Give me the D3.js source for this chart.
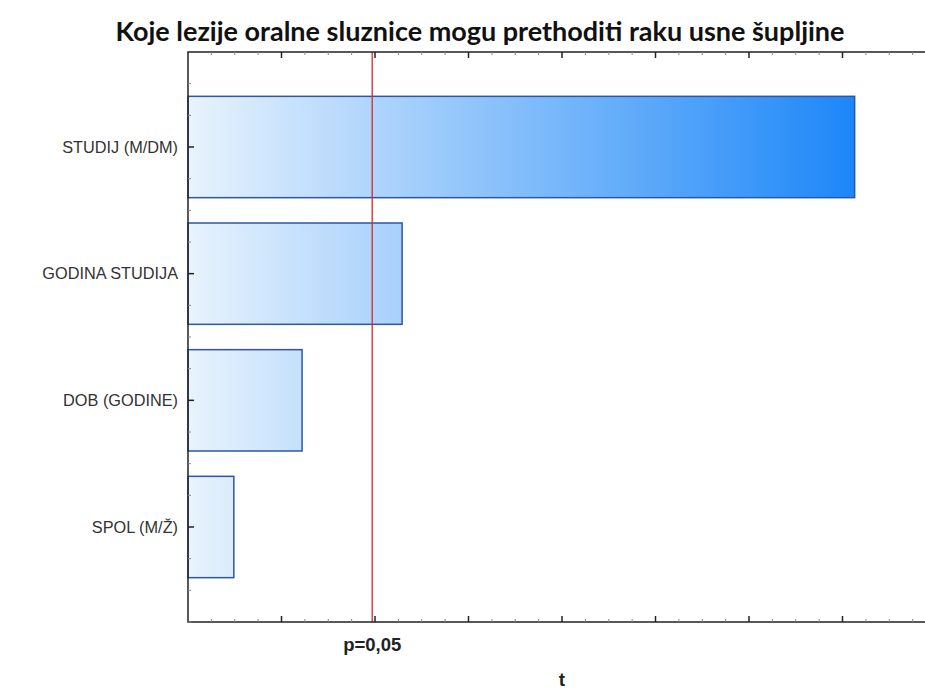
<!DOCTYPE html>
<html>
<head>
<meta charset="utf-8">
<style>
  body { margin: 0; background: #fff; }
  svg { display: block; }
</style>
</head>
<body>
<script src="https://d3js.org/d3.v7.min.js"></script>
<script>
// data (t values of each effect)
var categories = ["STUDIJ (M/DM)", "GODINA STUDIJA", "DOB (GODINE)", "SPOL (M/Ž)"];
var tValues = [7.13, 2.29, 1.22, 0.49];
var critical = 1.97;
var critLabel = "p=0,05";
var title = "Koje lezije oralne sluznice mogu prethoditi raku usne šupljine";

var W = 925, H = 691;
var mLeft = 188, mTop = 52, mBottom = 622, mRight = 936;

var svg = d3.select("body").append("svg")
    .attr("width", W).attr("height", H);

var x = d3.scaleLinear().domain([0, 8]).range([mLeft, mRight]);
// band positions: axis extends 0.75 band past first/last category
var y = d3.scaleLinear().domain([-0.75, categories.length - 0.25]).range([mTop, mBottom]);
var band = y(1) - y(0);
var barH = band * 0.8;

var defs = svg.append("defs");
var grad = defs.append("linearGradient")
    .attr("id", "barGrad")
    .attr("gradientUnits", "userSpaceOnUse")
    .attr("x1", x(0)).attr("x2", x(d3.max(tValues)))
    .attr("y1", 0).attr("y2", 0);
grad.append("stop").attr("offset", 0).attr("stop-color", "#e8f3fd");
grad.append("stop").attr("offset", 1).attr("stop-color", "#1c87f8");

// title
svg.append("text")
    .attr("x", 480).attr("y", 41)
    .attr("text-anchor", "middle")
    .style("font-family", "Lato, 'Open Sans', sans-serif")
    .style("font-weight", "bold")
    .style("font-size", "27px")
    .style("fill", "#111")
    .text(title);

// bars
svg.selectAll("rect.bar")
    .data(tValues)
  .enter().append("rect")
    .attr("class", "bar")
    .attr("x", x(0))
    .attr("y", function(d, i) { return y(i) - barH / 2; })
    .attr("width", function(d) { return x(d) - x(0); })
    .attr("height", barH)
    .style("fill", "url(#barGrad)")
    .style("stroke", "#2d55a8")
    .style("stroke-width", 1.5);

// critical line
svg.append("line")
    .attr("x1", x(critical)).attr("x2", x(critical))
    .attr("y1", mTop).attr("y2", mBottom)
    .style("stroke", "#d9262b")
    .style("stroke-width", 1.3);

// frame
var frame = svg.append("g").style("stroke", "#222").style("stroke-width", 1.5).style("fill", "none");
frame.append("path").attr("d", "M" + mRight + "," + mTop + "H" + mLeft + "V" + mBottom + "H" + mRight);

// x ticks (bottom and top), major every 1, minor every 0.25
var minorX = d3.range(0, 8.01, 0.25).filter(function(v) { return v % 1 !== 0; });
var majorX = d3.range(1, 9, 1);
var tk = svg.append("g").style("stroke", "#222");
majorX.forEach(function(v) {
  tk.append("line").attr("x1", x(v)).attr("x2", x(v)).attr("y1", mBottom).attr("y2", mBottom - 6).style("stroke-width", 1.5);
  tk.append("line").attr("x1", x(v)).attr("x2", x(v)).attr("y1", mTop).attr("y2", mTop + 6).style("stroke-width", 1.5);
});
minorX.forEach(function(v) {
  tk.append("line").attr("x1", x(v)).attr("x2", x(v)).attr("y1", mBottom).attr("y2", mBottom - 3).style("stroke-width", 1).style("stroke", "#888");
  tk.append("line").attr("x1", x(v)).attr("x2", x(v)).attr("y1", mTop).attr("y2", mTop + 3).style("stroke-width", 1).style("stroke", "#888");
});

// y ticks
var majorY = d3.range(categories.length);
var minorY = d3.range(-0.5, categories.length, 0.25).filter(function(v) { return v % 1 !== 0; });
majorY.forEach(function(v) {
  tk.append("line").attr("x1", mLeft).attr("x2", mLeft + 6).attr("y1", y(v)).attr("y2", y(v)).style("stroke-width", 1.5);
});
minorY.forEach(function(v) {
  tk.append("line").attr("x1", mLeft).attr("x2", mLeft + 3).attr("y1", y(v)).attr("y2", y(v)).style("stroke-width", 1).style("stroke", "#888");
});

// category labels
svg.selectAll("text.cat")
    .data(categories)
  .enter().append("text")
    .attr("class", "cat")
    .attr("x", mLeft - 10)
    .attr("y", function(d, i) { return y(i); })
    .attr("dy", "0.35em")
    .attr("text-anchor", "end")
    .style("font-family", "'Liberation Sans', Arial, sans-serif")
    .style("font-size", "16.3px")
    .style("fill", "#333")
    .text(function(d) { return d; });

// p label
svg.append("text")
    .attr("x", x(critical)).attr("y", 651)
    .attr("text-anchor", "middle")
    .style("font-family", "'Liberation Sans', Arial, sans-serif")
    .style("font-weight", "bold")
    .style("font-size", "18.5px")
    .style("fill", "#222")
    .text(critLabel);

// axis title
svg.append("text")
    .attr("x", 562).attr("y", 686)
    .attr("text-anchor", "middle")
    .style("font-family", "'Liberation Sans', Arial, sans-serif")
    .style("font-weight", "bold")
    .style("font-size", "19px")
    .style("fill", "#222")
    .text("t");
</script>
</body>
</html>
